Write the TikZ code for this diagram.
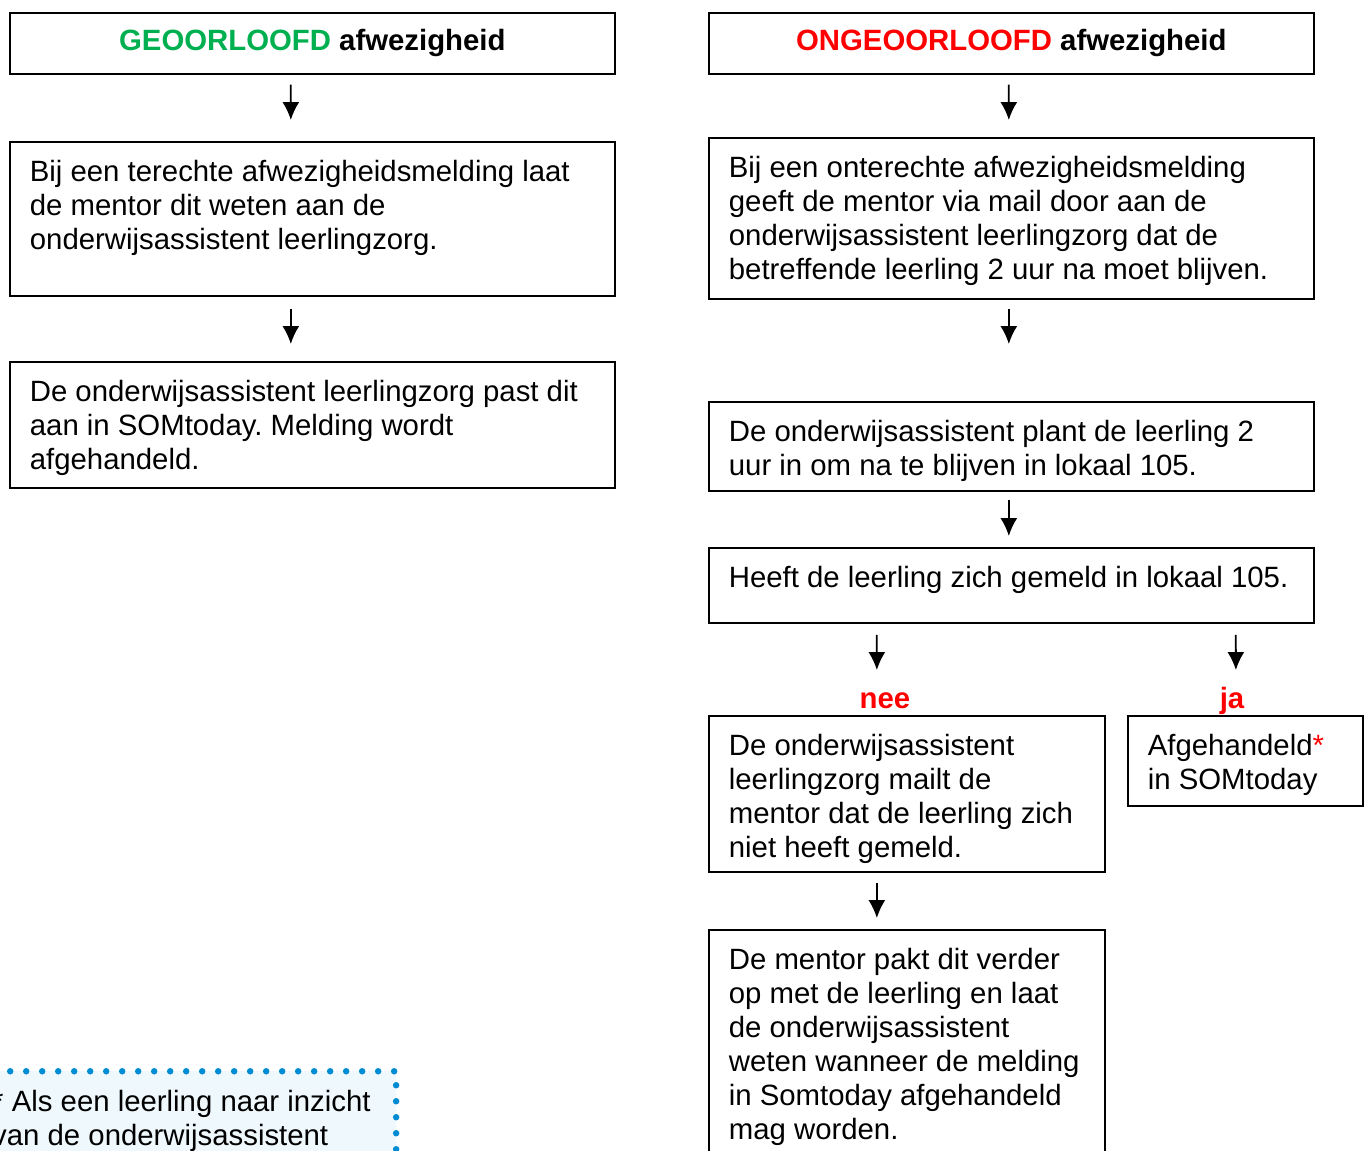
\documentclass[tikz,border=0pt]{standalone}
\usepackage{fontspec}
\setmainfont{Liberation Sans}
\usetikzlibrary{arrows.meta}

\definecolor{groen}{RGB}{0,176,80}
\definecolor{rood}{RGB}{255,0,0}
\definecolor{stip}{RGB}{0,140,210}
\definecolor{lichtblauw}{RGB}{238,248,253}

\newcommand{\tekstfont}{\fontsize{16.7}{19.4}\selectfont}
\newcommand{\blok}[3]{\parbox[t][#1][t]{#2}{\raggedright\frenchspacing #3}}

\begin{document}
\begin{tikzpicture}[x=0.02cm,y=-0.02cm,
  kop/.style={draw, line width=1pt, anchor=north west, minimum width=12.1cm,
    minimum height=1.22cm, inner sep=0pt, font=\tekstfont\bfseries},
  kader/.style={draw, line width=1pt, anchor=north west, inner xsep=0.4cm,
    inner ysep=0.36cm, font=\tekstfont},
  pijl/.style={-{Latex[length=0.36cm,width=0.34cm]}, line width=1pt},
  antw/.style={text=rood, font=\tekstfont\bfseries}]
\useasboundingbox (0,0) rectangle (1369,1150);
\clip (0,0) rectangle (1369,1150);

% Geoorloofd
\node[kop] (a1) at (9,12) {\textcolor{groen}{GEOORLOOFD} afwezigheid};
\node[kader] (a2) at (9,141) {\blok{2.36cm}{11.3cm}{Bij een terechte afwezigheidsmelding laat\\
de mentor dit weten aan de\\ onderwijsassistent leerlingzorg.}};
\node[kader] (a3) at (9,361) {\blok{1.8cm}{11.3cm}{De onderwijsassistent leerlingzorg past dit\\
aan in SOMtoday. Melding wordt\\ afgehandeld.}};

% Ongeoorloofd
\node[kop] (b1) at (708,12) {\textcolor{rood}{ONGEOORLOOFD} afwezigheid};
\node[kader] (b2) at (708,137) {\blok{2.5cm}{11.3cm}{Bij een onterechte afwezigheidsmelding\\
geeft de mentor via mail door aan de\\ onderwijsassistent leerlingzorg dat de\\
betreffende leerling 2 uur na moet blijven.}};
\node[kader] (b3) at (708,401) {\blok{1.06cm}{11.3cm}{De onderwijsassistent plant de leerling 2\\
uur in om na te blijven in lokaal 105.}};
\node[kader] (b4) at (708,547) {\blok{0.78cm}{11.3cm}{Heeft de leerling zich gemeld in lokaal 105.}};
\node[kader] (b5) at (708,715) {\blok{2.4cm}{7.12cm}{De onderwijsassistent\\ leerlingzorg mailt de\\
mentor dat de leerling zich\\ niet heeft gemeld.}};
\node[kader] (b6) at (1127,715) {\blok{1.08cm}{3.9cm}{Afgehandeld\textcolor{rood}{*}\\ in SOMtoday}};
\node[kader] (b7) at (708,929) {\blok{4.08cm}{7.12cm}{De mentor pakt dit verder\\
op met de leerling en laat\\ de onderwijsassistent\\ weten wanneer de melding\\
in Somtoday afgehandeld\\ mag worden.}};

\node[antw, anchor=base] (nee) at (885,708) {nee};
\node[antw, anchor=base] (ja) at (1232,708) {ja};

% voetnoot
\node[kader, draw=stip, fill=lichtblauw, line width=0.13cm, line cap=round,
  dash pattern=on 0pt off 0.32cm, inner ysep=0.38cm] (noot) at (-31,1068)
  {\blok{3.2cm}{7.68cm}{* Als een leerling naar inzicht\\ van de onderwijsassistent}};

% pijlen
\draw[pijl] ([xshift=-0.43cm,yshift=-0.2cm]a1.south) -- ([xshift=-0.43cm,yshift=0.42cm]a2.north);
\draw[pijl] ([xshift=-0.43cm,yshift=-0.24cm]a2.south) -- ([xshift=-0.43cm,yshift=0.34cm]a3.north);
\draw[pijl] ([xshift=-0.05cm,yshift=-0.2cm]b1.south) -- ([xshift=-0.05cm,yshift=0.34cm]b2.north);
\draw[pijl] ([xshift=-0.05cm,yshift=-0.18cm]b2.south) -- ([xshift=-0.05cm,yshift=1.14cm]b3.north);
\draw[pijl] ([xshift=-0.05cm,yshift=-0.16cm]b3.south) -- ([xshift=-0.05cm,yshift=0.22cm]b4.north);
\draw[pijl] ([yshift=-0.22cm]b4.south -| b5.north) ++(-30,0) -- ([xshift=-0.6cm,yshift=0.9cm]b5.north);
\draw[pijl] ([yshift=-0.22cm]b4.south -| b6.north) ++(-9.5,0) -- ([xshift=-0.19cm,yshift=0.9cm]b6.north);
\draw[pijl] ([xshift=-0.6cm,yshift=-0.2cm]b5.south) -- ([xshift=-0.6cm,yshift=0.22cm]b7.north);
\end{tikzpicture}
\end{document}
